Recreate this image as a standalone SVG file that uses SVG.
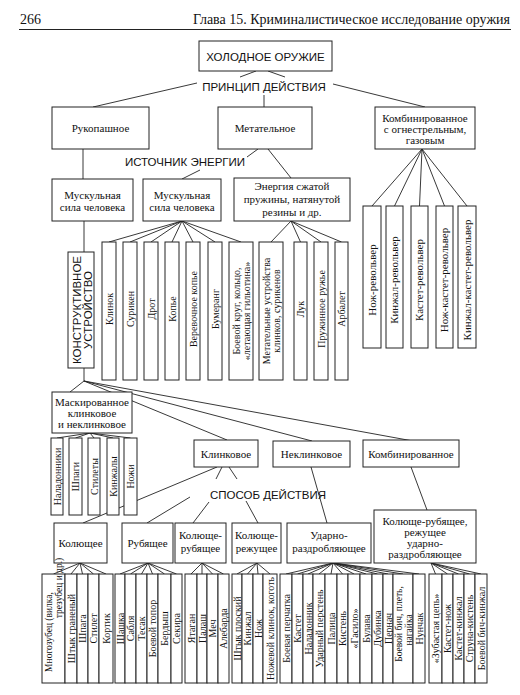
<svg xmlns="http://www.w3.org/2000/svg" width="520" height="695" viewBox="0 0 520 695">
<style>
.b{fill:#fff;stroke:#222;stroke-width:1}
.t{font-family:"Liberation Serif",serif;font-size:11px;fill:#111;text-anchor:middle}
.s{font-family:"Liberation Sans",sans-serif;font-size:11.5px;fill:#111;text-anchor:middle}
.v{font-family:"Liberation Serif",serif;font-size:10px;fill:#111;text-anchor:middle}
.vs{font-family:"Liberation Serif",serif;font-size:9.5px;fill:#111;text-anchor:middle}
.vl{font-family:"Liberation Serif",serif;font-size:11px;fill:#111;text-anchor:middle}
.c{fill:none;stroke:#222;stroke-width:0.9}
.h{font-family:"Liberation Serif",serif;font-size:14px;fill:#111}
</style>
<rect width="520" height="695" fill="#fff"/>
<g id="header">
<text class="h" x="20" y="24">266</text>
<text class="h" x="510" y="24" text-anchor="end">Глава 15. Криминалистическое исследование оружия</text>
<line x1="19" y1="29.5" x2="511" y2="29.5" stroke="#222" stroke-width="1.2"/>
</g>
<g id="connectors" class="c">
<path d="M256,71L240,77M268,71L285,77M197,83L93,107M264,95L264,107M333,84L425,107"/>
<path d="M83,149L83,179M258,149L247,157M200,170L182,179M268,149L291,178"/>
<path d="M182,221L109,242M182,221L130,242M182,221L151,242M182,221L172,242M182,221L193,242M182,221L215,242M182,221L241,242"/>
<path d="M291,221L271,242M291,221L300.5,242M291,221L321,242M291,221L341.5,242"/>
<path d="M422,149L372,206M422,149L394.5,206M422,149L419.5,206M422,149L444.5,206M422,149L467,206"/>
<path d="M84,221L84,252M84,368L84,381M84,381L70,392M84,381L227,440M84,381L312,441M84,381L413,441"/>
<path d="M90,433L57,438M90,433L75.5,438M90,433L94,438M90,433L113,438M90,433L130.5,438"/>
<path d="M217,467L83,523M222,467L216,479M229,467L237,479M190,497L147,523M209,502L193,523M246,501L258,523M311,467L327,523M411,467L427,510"/>
<path d="M80,563L53.5,574M80,563L71,574M80,563L82.5,574M80,563L93.5,574M80,563L106,574"/>
<path d="M148,563L120,574M148,563L130.5,574M148,563L141.5,574M148,563L152.5,574M148,563L164.5,574M148,563L176.5,574"/>
<path d="M202,563L191,574M202,563L202,574M202,563L212.5,574M202,563L223.5,574"/>
<path d="M257,563L237,574M257,563L247.5,574M257,563L258,574M257,563L270,574"/>
<path d="M333,563L286,574M333,563L297.5,574M333,563L308,574M333,563L319,574M333,563L331,574M333,563L342.5,574M333,563L354,574M333,563L366,574M333,563L377.5,574M333,563L388,574M333,563L403,574M333,563L419,574"/>
<path d="M431,563L435.5,574M431,563L447.5,574M431,563L458.5,574M431,563L469.5,574M431,563L481,574"/>
</g>
<g id="n-root"><rect class="b" x="199" y="41" width="133" height="30"/><text class="s" x="265.5" y="60.5">ХОЛОДНОЕ ОРУЖИЕ</text></g>
<g id="l-princip"><text class="s" x="264" y="90.5" font-size="12">ПРИНЦИП ДЕЙСТВИЯ</text></g>
<g id="n-ruk"><rect class="b" x="52" y="107" width="97" height="42"/><text class="t" x="100.5" y="132">Рукопашное</text></g>
<g id="n-met"><rect class="b" x="218" y="107" width="94" height="42"/><text class="t" x="265" y="132">Метательное</text></g>
<g id="n-komb"><rect class="b" x="375" y="107" width="100" height="42"/><text class="t" x="425" y="121.5">Комбинированное</text><text class="t" x="425" y="132.5">с огнестрельным,</text><text class="t" x="425" y="143.5">газовым</text></g>
<g id="l-istochnik"><text class="s" x="185" y="166" font-size="12">ИСТОЧНИК ЭНЕРГИИ</text></g>
<g id="n-mus1"><rect class="b" x="52" y="179" width="81" height="42"/><text class="t" x="92.5" y="199">Мускульная</text><text class="t" x="92.5" y="210.5">сила человека</text></g>
<g id="n-mus2"><rect class="b" x="143" y="179" width="78" height="42"/><text class="t" x="182" y="199">Мускульная</text><text class="t" x="182" y="210.5">сила человека</text></g>
<g id="n-energy"><rect class="b" x="234" y="178" width="116" height="43"/><text class="t" x="292" y="190">Энергия сжатой</text><text class="t" x="292" y="203">пружины, натянутой</text><text class="t" x="292" y="215.5">резины и др.</text></g>
<g id="n-konstr"><rect class="b" x="68" y="252" width="26" height="116"/><text class="s" transform="translate(80.5,310) rotate(-90)">КОНСТРУКТИВНОЕ</text><text class="s" transform="translate(91.5,310) rotate(-90)">УСТРОЙСТВО</text></g>
<g id="n-klinok"><rect class="b" x="102" y="242" width="14" height="138"/><text class="v" transform="translate(112.5,309) rotate(-90)">Клинок</text></g>
<g id="n-suriken"><rect class="b" x="123" y="242" width="14" height="138"/><text class="v" transform="translate(133.5,309) rotate(-90)">Сурикен</text></g>
<g id="n-drot"><rect class="b" x="144" y="242" width="14" height="138"/><text class="v" transform="translate(154.5,309) rotate(-90)">Дрот</text></g>
<g id="n-kopie"><rect class="b" x="165" y="242" width="14" height="138"/><text class="v" transform="translate(175.5,309) rotate(-90)">Копье</text></g>
<g id="n-verev"><rect class="b" x="186" y="242" width="14" height="138"/><text class="v" transform="translate(196.5,309) rotate(-90)">Веревочное копье</text></g>
<g id="n-bumerang"><rect class="b" x="208" y="242" width="14" height="138"/><text class="v" transform="translate(218.5,309) rotate(-90)">Бумеранг</text></g>
<g id="n-krug"><rect class="b" x="229" y="242" width="24" height="138"/><text class="v" transform="translate(239.5,311) rotate(-90)">Боевой круг, кольцо,</text><text class="v" transform="translate(250,311) rotate(-90)">«летающая гильотина»</text></g>
<g id="n-metust"><rect class="b" x="259" y="242" width="24" height="138"/><text class="v" transform="translate(269.5,311) rotate(-90)">Метательные устройства</text><text class="v" transform="translate(280,311) rotate(-90)">клинков, сурикенов</text></g>
<g id="n-luk"><rect class="b" x="294" y="242" width="13" height="138"/><text class="v" transform="translate(304,309) rotate(-90)">Лук</text></g>
<g id="n-pruzh"><rect class="b" x="314" y="242" width="14" height="138"/><text class="v" transform="translate(324.5,309) rotate(-90)">Пружинное ружье</text></g>
<g id="n-arbalet"><rect class="b" x="335" y="242" width="13" height="138"/><text class="v" transform="translate(345,309) rotate(-90)">Арбалет</text></g>
<g id="n-nozhrev"><rect class="b" x="363" y="206" width="18" height="142"/><text class="vl" transform="translate(375.5,280) rotate(-90)">Нож-револьвер</text></g>
<g id="n-kinzhrev"><rect class="b" x="386" y="206" width="17" height="142"/><text class="vl" transform="translate(398,280) rotate(-90)">Кинжал-револьвер</text></g>
<g id="n-kastrev"><rect class="b" x="411" y="206" width="17" height="142"/><text class="vl" transform="translate(423,280) rotate(-90)">Кастет-револьвер</text></g>
<g id="n-nozhkastrev"><rect class="b" x="436" y="206" width="17" height="142"/><text class="vl" transform="translate(448,280) rotate(-90)">Нож-кастет-револьвер</text></g>
<g id="n-kinzhkastrev"><rect class="b" x="458" y="206" width="18" height="142"/><text class="vl" transform="translate(470.5,280) rotate(-90)">Кинжал-кастет-револьвер</text></g>
<g id="n-mask"><rect class="b" x="52" y="392" width="80" height="41"/><text class="t" x="92" y="405.5">Маскированное</text><text class="t" x="92" y="416.5">клинковое</text><text class="t" x="92" y="428">и неклинковое</text></g>
<g id="n-naladonniki"><rect class="b" x="51" y="438" width="12" height="77"/><text class="v" transform="translate(60.5,476.5) rotate(-90)">Наладонники</text></g>
<g id="n-shpagi"><rect class="b" x="69" y="438" width="13" height="77"/><text class="v" transform="translate(79,476.5) rotate(-90)">Шпаги</text></g>
<g id="n-stilety"><rect class="b" x="88" y="438" width="12" height="77"/><text class="v" transform="translate(97.5,476.5) rotate(-90)">Стилеты</text></g>
<g id="n-kinzhaly"><rect class="b" x="107" y="438" width="12" height="77"/><text class="v" transform="translate(116.5,476.5) rotate(-90)">Кинжалы</text></g>
<g id="n-nozhi"><rect class="b" x="124" y="438" width="13" height="77"/><text class="v" transform="translate(134,476.5) rotate(-90)">Ножи</text></g>
<g id="n-klinkovoe"><rect class="b" x="194" y="440" width="64" height="27"/><text class="t" x="226" y="457.5">Клинковое</text></g>
<g id="n-neklinkovoe"><rect class="b" x="273" y="441" width="77" height="26"/><text class="t" x="311.5" y="458">Неклинковое</text></g>
<g id="n-komb2"><rect class="b" x="363" y="440" width="96" height="27"/><text class="t" x="411" y="457.5">Комбинированное</text></g>
<g id="l-sposob"><text class="s" x="268" y="498.5" font-size="12">СПОСОБ ДЕЙСТВИЯ</text></g>
<g id="n-kol"><rect class="b" x="54" y="523" width="53" height="40"/><text class="t" x="80.5" y="547">Колющее</text></g>
<g id="n-rub"><rect class="b" x="122" y="523" width="51" height="40"/><text class="t" x="147.5" y="547">Рубящее</text></g>
<g id="n-kolrub"><rect class="b" x="175" y="523" width="51" height="40"/><text class="t" x="200.5" y="539">Колюще-</text><text class="t" x="200.5" y="552">рубящее</text></g>
<g id="n-kolrez"><rect class="b" x="232" y="523" width="49" height="40"/><text class="t" x="256.5" y="539">Колюще-</text><text class="t" x="256.5" y="552">режущее</text></g>
<g id="n-udar"><rect class="b" x="287" y="523" width="84" height="40"/><text class="t" x="329" y="539">Ударно-</text><text class="t" x="329" y="552">раздробляющее</text></g>
<g id="n-kombo"><rect class="b" x="374" y="510" width="102" height="53"/><text class="t" x="425" y="524.5">Колюще-рубящее,</text><text class="t" x="425" y="536">режущее</text><text class="t" x="425" y="547">ударно-</text><text class="t" x="425" y="558">раздробляющее</text></g>
<g id="n-mnogozub"><rect class="b" x="42" y="574" width="23" height="109"/><text class="vs" transform="translate(52,632) rotate(-90)">Многозубец (вилка,</text><text class="vs" transform="translate(62,588) rotate(-90)" text-anchor="end">трезубец и др.)</text></g>
<g id="n-shtykgr"><rect class="b" x="65" y="574" width="12" height="109"/><text class="v" transform="translate(74.5,628.5) rotate(-90)">Штык граненый</text></g>
<g id="n-shpaga"><rect class="b" x="77" y="574" width="11" height="109"/><text class="v" transform="translate(86,628.5) rotate(-90)">Шпага</text></g>
<g id="n-stilet"><rect class="b" x="88" y="574" width="11" height="109"/><text class="v" transform="translate(97,628.5) rotate(-90)">Стилет</text></g>
<g id="n-kortik"><rect class="b" x="99" y="574" width="14" height="109"/><text class="v" transform="translate(109.5,628.5) rotate(-90)">Кортик</text></g>
<g id="n-shashka"><rect class="b" x="115" y="574" width="10" height="109"/><text class="v" transform="translate(123.5,628.5) rotate(-90)">Шашка</text></g>
<g id="n-sablya"><rect class="b" x="125" y="574" width="11" height="109"/><text class="v" transform="translate(134,628.5) rotate(-90)">Сабля</text></g>
<g id="n-tesak"><rect class="b" x="136" y="574" width="11" height="109"/><text class="v" transform="translate(145,628.5) rotate(-90)">Тесак</text></g>
<g id="n-topor"><rect class="b" x="147" y="574" width="11" height="109"/><text class="v" transform="translate(156,628.5) rotate(-90)">Боевой топор</text></g>
<g id="n-berdysh"><rect class="b" x="158" y="574" width="13" height="109"/><text class="v" transform="translate(168,628.5) rotate(-90)">Бердыш</text></g>
<g id="n-sekira"><rect class="b" x="171" y="574" width="11" height="109"/><text class="v" transform="translate(180,628.5) rotate(-90)">Секира</text></g>
<g id="n-yatagan"><rect class="b" x="185" y="574" width="12" height="109"/><text class="v" transform="translate(194.5,628.5) rotate(-90)">Ятаган</text></g>
<g id="n-palash"><rect class="b" x="197" y="574" width="10" height="109"/><text class="v" transform="translate(205.5,628.5) rotate(-90)">Палаш</text></g>
<g id="n-mech"><rect class="b" x="207" y="574" width="11" height="109"/><text class="v" transform="translate(216,628.5) rotate(-90)">Меч</text></g>
<g id="n-alebarda"><rect class="b" x="218" y="574" width="11" height="109"/><text class="v" transform="translate(227,628.5) rotate(-90)">Алебарда</text></g>
<g id="n-shtykpl"><rect class="b" x="232" y="574" width="10" height="109"/><text class="v" transform="translate(240.5,628.5) rotate(-90)">Штык плоский</text></g>
<g id="n-kinzhal"><rect class="b" x="242" y="574" width="11" height="109"/><text class="v" transform="translate(251,628.5) rotate(-90)">Кинжал</text></g>
<g id="n-nozh"><rect class="b" x="253" y="574" width="10" height="109"/><text class="v" transform="translate(261.5,628.5) rotate(-90)">Нож</text></g>
<g id="n-nozhklin"><rect class="b" x="263" y="574" width="14" height="109"/><text class="v" transform="translate(273.5,628.5) rotate(-90)">Ножевой клинок, коготь</text></g>
<g id="n-perchatka"><rect class="b" x="280" y="574" width="12" height="109"/><text class="v" transform="translate(289.5,628.5) rotate(-90)">Боевая перчатка</text></g>
<g id="n-kastet"><rect class="b" x="292" y="574" width="11" height="109"/><text class="v" transform="translate(301,628.5) rotate(-90)">Кастет</text></g>
<g id="n-naladonnik"><rect class="b" x="303" y="574" width="10" height="109"/><text class="v" transform="translate(311.5,628.5) rotate(-90)">Наладонник</text></g>
<g id="n-perosten"><rect class="b" x="313" y="574" width="12" height="109"/><text class="v" transform="translate(322.5,628.5) rotate(-90)">Ударный перстень</text></g>
<g id="n-palica"><rect class="b" x="325" y="574" width="12" height="109"/><text class="v" transform="translate(334.5,628.5) rotate(-90)">Палица</text></g>
<g id="n-kisten"><rect class="b" x="337" y="574" width="11" height="109"/><text class="v" transform="translate(346,628.5) rotate(-90)">Кистень</text></g>
<g id="n-gasilo"><rect class="b" x="348" y="574" width="12" height="109"/><text class="v" transform="translate(357.5,628.5) rotate(-90)">«Гасило»</text></g>
<g id="n-bulava"><rect class="b" x="360" y="574" width="12" height="109"/><text class="v" transform="translate(369.5,628.5) rotate(-90)">Булава</text></g>
<g id="n-dubinka"><rect class="b" x="372" y="574" width="11" height="109"/><text class="v" transform="translate(381,628.5) rotate(-90)">Дубинка</text></g>
<g id="n-pernach"><rect class="b" x="383" y="574" width="10" height="109"/><text class="v" transform="translate(391.5,628.5) rotate(-90)">Пернач</text></g>
<g id="n-bich"><rect class="b" x="393" y="574" width="20" height="109"/><text class="vs" transform="translate(402,624) rotate(-90)">Боевой бич, плеть,</text><text class="vs" transform="translate(411.5,630) rotate(-90)">нагайка</text></g>
<g id="n-nunchak"><rect class="b" x="413" y="574" width="12" height="109"/><text class="v" transform="translate(422.5,628.5) rotate(-90)">Нунчак</text></g>
<g id="n-zubcep"><rect class="b" x="429" y="574" width="13" height="109"/><text class="v" transform="translate(439,628.5) rotate(-90)">«Зубастая цепь»</text></g>
<g id="n-kastnozh"><rect class="b" x="442" y="574" width="11" height="109"/><text class="v" transform="translate(451,628.5) rotate(-90)">Кастет-нож</text></g>
<g id="n-kastkinzh"><rect class="b" x="453" y="574" width="11" height="109"/><text class="v" transform="translate(462,628.5) rotate(-90)">Кастет-кинжал</text></g>
<g id="n-struna"><rect class="b" x="464" y="574" width="11" height="109"/><text class="v" transform="translate(473,628.5) rotate(-90)">Струна-кистень</text></g>
<g id="n-bichkinzh"><rect class="b" x="475" y="574" width="12" height="109"/><text class="v" transform="translate(484.5,628.5) rotate(-90)">Боевой бич-кинжал</text></g>
</svg>
